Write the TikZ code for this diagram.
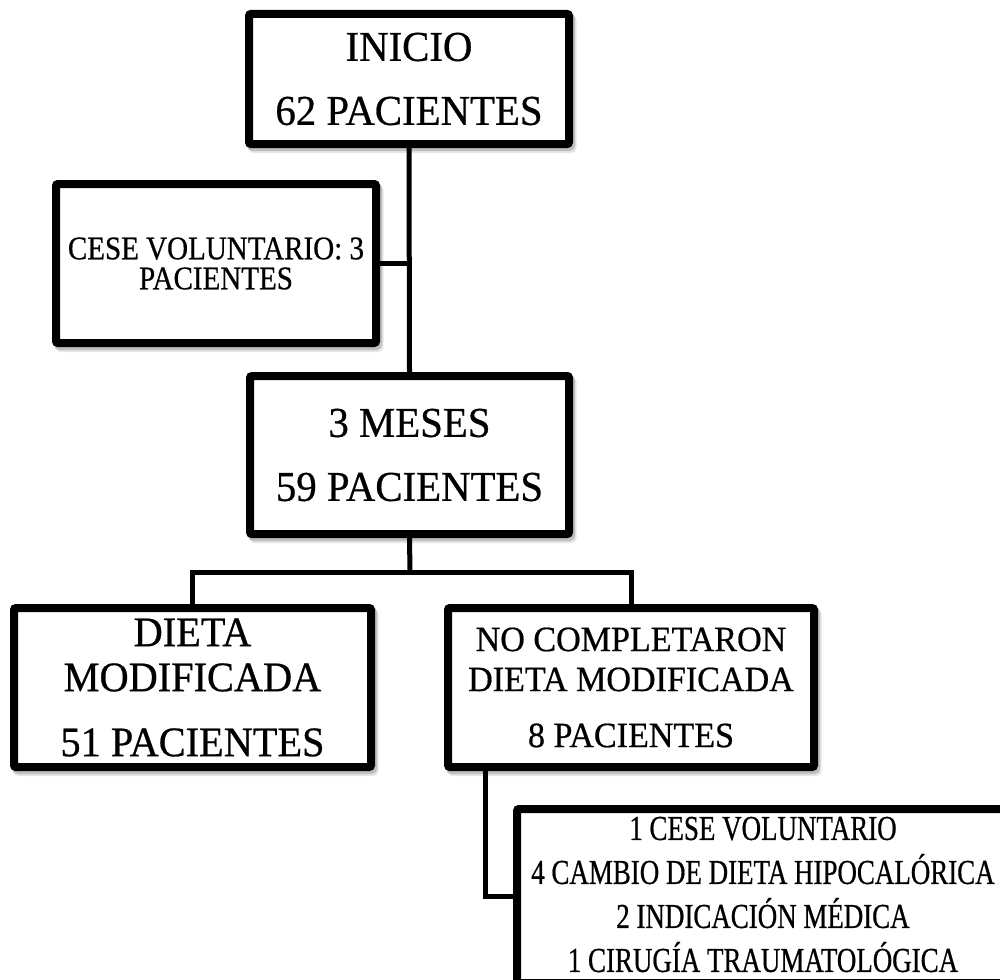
\documentclass[tikz,border=0pt]{standalone}
\usepackage{fontspec}
\setmainfont{Liberation Serif}
\newfontfamily\fwide{Liberation Serif}[FakeStretch=0.96,FakeBold=0.6]
\newfontfamily\fcese{Liberation Serif}[FakeStretch=0.88,FakeBold=0.6]
\newfontfamily\flist{Liberation Serif}[FakeStretch=0.77,FakeBold=0.6]

\begin{document}
\begin{tikzpicture}[x=1pt,y=-1pt,
  box/.style={draw=black, line width=8pt, fill=white, rounded corners=2pt,
    align=center, inner sep=0pt,
    preaction={draw=black!10, fill=black!10, transform canvas={shift={(3.5pt,-5pt)}}},
    preaction={draw=black!25, fill=black!25, transform canvas={shift={(2pt,-3pt)}}}},
  flat/.style={draw=black, line width=8pt, fill=white, rounded corners=2pt,
    inner sep=0pt},
  listtext/.style={align=center, inner sep=0pt},
  conn/.style={draw=black, line width=5pt}]

\useasboundingbox (0,0) rectangle (1000,979);
\clip (0,0) rectangle (1000,979);
\fill[white] (0,0) rectangle (1000,979);

% boxes
\node[box, minimum width=320pt, minimum height=130pt,
  font=\fwide\fontsize{42.5}{64}\selectfont] (inicio) at (409,79)
  {INICIO\\62 PACIENTES};

\node[box, minimum width=320pt, minimum height=159pt,
  font=\fcese\fontsize{33}{30}\selectfont] (cese) at (216,263.5)
  {CESE VOLUNTARIO: 3\\PACIENTES};

\node[box, minimum width=319pt, minimum height=158pt,
  font=\fwide\fontsize{42.5}{64}\selectfont] (meses) at (409.5,455)
  {3 MESES\\59 PACIENTES};

\node[box, minimum width=357pt, minimum height=159pt,
  font=\fwide\fontsize{42}{45}\selectfont] (dieta) at (192.5,687.5)
  {DIETA\\MODIFICADA\\[20pt]51 PACIENTES};

\node[box, minimum width=366pt, minimum height=159pt,
  font=\fwide\fontsize{35.5}{40}\selectfont] (nocomp) at (631,687.5)
  {NO COMPLETARON\\DIETA MODIFICADA\\[16pt]8 PACIENTES};

% last box runs past the right and bottom edges of the page
\node[flat, minimum width=560pt, minimum height=174pt] (lista) at (797,896) {};
\node[listtext, font=\flist\fontsize{35}{44}\selectfont] (listatxt) at (763,894.5)
  {1 CESE VOLUNTARIO\\4 CAMBIO DE DIETA HIPOCALÓRICA\\2 INDICACIÓN MÉDICA\\1 CIRUGÍA TRAUMATOLÓGICA};

% connectors
\coordinate (split) at (410,572);
\coordinate (drop) at (485,0);

\draw[conn] (inicio.south) -- (meses.north);
\draw[conn] (cese.east) -- (cese.east -| inicio.south);
\draw[conn] (meses.south) -- (split);
\draw[conn] (dieta.north) |- (split) -| (nocomp.north);
\draw[conn] (nocomp.south -| drop) |- (lista.west);
\end{tikzpicture}
\end{document}
